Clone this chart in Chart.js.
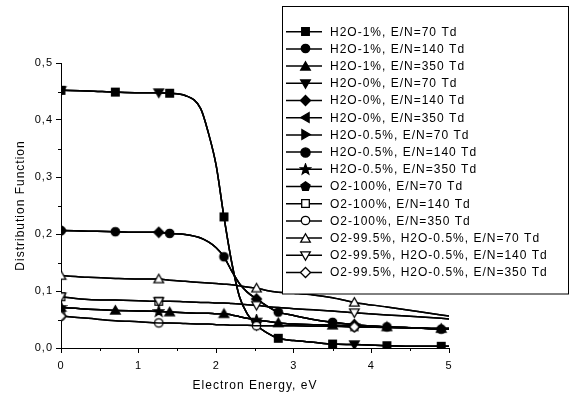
<!DOCTYPE html>
<html>
<head>
<meta charset="utf-8">
<title>Electron energy distribution</title>
<script src="https://cdn.jsdelivr.net/npm/chart.js@4.4.0/dist/chart.umd.min.js"></script>
<style>
  html, body { margin: 0; padding: 0; background: #fff; }
</style>
</head>
<body>
<canvas id="eedfChart" width="570" height="396"></canvas>
<script>
// --- Data ---
const energy = [0, 0.35, 0.7, 1.0, 1.26, 1.4, 1.6, 1.8, 1.9, 2.0, 2.1, 2.2, 2.3, 2.4, 2.52, 2.65, 2.8, 3.0, 3.25, 3.5, 3.78, 4.2, 4.6, 4.9, 5.0];

// water admixture runs
const eedf70  = [0.452, 0.451, 0.449, 0.448, 0.448, 0.447, 0.443, 0.420, 0.377, 0.320, 0.230, 0.150, 0.090, 0.060, 0.040, 0.027, 0.017, 0.013, 0.010, 0.007, 0.006, 0.004, 0.003, 0.003, 0.003];
const eedf140 = [0.206, 0.205, 0.204, 0.203, 0.203, 0.201, 0.199, 0.193, 0.186, 0.176, 0.160, 0.135, 0.113, 0.098, 0.086, 0.074, 0.063, 0.057, 0.050, 0.045, 0.041, 0.037, 0.035, 0.033, 0.033];
const eedf350 = [0.071, 0.068, 0.066, 0.065, 0.064, 0.063, 0.062, 0.061, 0.061, 0.060, 0.060, 0.058, 0.055, 0.052, 0.049, 0.047, 0.044, 0.042, 0.041, 0.040, 0.039, 0.037, 0.035, 0.034, 0.034];

// oxygen runs
const o2eedf70  = [0.127, 0.124, 0.122, 0.121, 0.121, 0.119, 0.117, 0.115, 0.114, 0.113, 0.112, 0.111, 0.109, 0.107, 0.105, 0.101, 0.098, 0.096, 0.093, 0.088, 0.080, 0.072, 0.064, 0.058, 0.056];
const o2eedf140 = [0.090, 0.085, 0.084, 0.083, 0.082, 0.082, 0.081, 0.080, 0.080, 0.079, 0.079, 0.078, 0.077, 0.076, 0.075, 0.073, 0.071, 0.069, 0.067, 0.065, 0.062, 0.058, 0.055, 0.052, 0.051];
const o2eedf350 = [0.056, 0.052, 0.048, 0.046, 0.044, 0.044, 0.043, 0.042, 0.042, 0.041, 0.041, 0.040, 0.040, 0.040, 0.039, 0.039, 0.039, 0.039, 0.038, 0.038, 0.037, 0.036, 0.035, 0.034, 0.034];

// energies where symbols are drawn
const marksA = [0, 0.7, 1.4, 2.1, 2.8, 3.5, 4.2, 4.9];
const marksB = [0, 1.26, 2.52, 3.78];

const xTicks = [0, 1, 2, 3, 4, 5];
const yTicks = [0, 0.1, 0.2, 0.3, 0.4, 0.5];

// --- Marker images (Origin-like symbols) ---
function markerImage(shape, filled) {
    const c = document.createElement('canvas');
    c.width = 13; c.height = 13;
    const g = c.getContext('2d');
    g.translate(6.5, 6.5);
    g.beginPath();
    const poly = pts => { g.moveTo(pts[0][0], pts[0][1]); pts.slice(1).forEach(p => g.lineTo(p[0], p[1])); g.closePath(); };
    if (shape === 'square') g.rect(-3.8, -3.8, 7.6, 7.6);
    else if (shape === 'circle') g.arc(0, 0, 4.2, 0, Math.PI * 2);
    else if (shape === 'bigcircle') g.arc(0, 0, 4.6, 0, Math.PI * 2);
    else if (shape === 'up') poly([[0, -4.8], [4.8, 3.6], [-4.8, 3.6]]);
    else if (shape === 'down') poly([[0, 4.8], [4.8, -3.6], [-4.8, -3.6]]);
    else if (shape === 'left') poly([[-4.8, 0], [3.6, -4.8], [3.6, 4.8]]);
    else if (shape === 'right') poly([[4.8, 0], [-3.6, -4.8], [-3.6, 4.8]]);
    else if (shape === 'diamond') poly([[0, -5], [5, 0], [0, 5], [-5, 0]]);
    else if (shape === 'star' || shape === 'pentagon') {
        const pts = [];
        const n = shape === 'star' ? 10 : 5;
        for (let k = 0; k < n; k++) {
            const a = -Math.PI / 2 + k * 2 * Math.PI / n;
            const r = shape === 'star' ? (k % 2 ? 2.3 : 5.5) : 4.8;
            pts.push([r * Math.cos(a), r * Math.sin(a)]);
        }
        poly(pts);
    }
    g.fillStyle = filled ? '#000' : '#fff';
    g.fill();
    g.lineWidth = 1.3;
    g.strokeStyle = '#000';
    g.stroke();
    return c;
}

const series = [
    { label: 'H2O-1%, E/N=70 Td',   values: eedf70,  shape: 'square',    filled: true, marks: marksA },
    { label: 'H2O-1%, E/N=140 Td',  values: eedf140, shape: 'circle',    filled: true, marks: marksA },
    { label: 'H2O-1%, E/N=350 Td',  values: eedf350, shape: 'up',        filled: true, marks: marksA },
    { label: 'H2O-0%, E/N=70 Td',   values: eedf70,  shape: 'down',      filled: true, marks: marksB },
    { label: 'H2O-0%, E/N=140 Td',  values: eedf140, shape: 'diamond',   filled: true, marks: marksB },
    { label: 'H2O-0%, E/N=350 Td',  values: eedf350, shape: 'left',      filled: true, marks: [] },
    { label: 'H2O-0.5%, E/N=70 Td', values: eedf70,  shape: 'right',     filled: true, marks: [] },
    { label: 'H2O-0.5%, E/N=140 Td', values: eedf140, shape: 'bigcircle', filled: true, marks: [] },
    { label: 'H2O-0.5%, E/N=350 Td', values: eedf350, shape: 'star',     filled: true, marks: marksB },
    { label: 'O2-100%, E/N=70 Td',  values: o2eedf70,  shape: 'pentagon', filled: true, marks: [] },
    { label: 'O2-100%, E/N=140 Td', values: o2eedf140, shape: 'square',  filled: false, marks: [0, 1.26] },
    { label: 'O2-100%, E/N=350 Td', values: o2eedf350, shape: 'circle',  filled: false, marks: marksB },
    { label: 'O2-99.5%, H2O-0.5%, E/N=70 Td',  values: o2eedf70,  shape: 'up',      filled: false, marks: marksB },
    { label: 'O2-99.5%, H2O-0.5%, E/N=140 Td', values: o2eedf140, shape: 'down',    filled: false, marks: marksB },
    { label: 'O2-99.5%, H2O-0.5%, E/N=350 Td', values: o2eedf350, shape: 'diamond', filled: false, marks: [0, 3.78] }
];

const datasets = series.map((s, i) => {
    const img = markerImage(s.shape, s.filled);
    return {
        label: s.label,
        data: energy.map((e, k) => ({ x: e, y: s.values[k] })),
        borderColor: '#000',
        borderWidth: 1.5,
        cubicInterpolationMode: 'monotone',
        fill: false,
        clip: 0,
        order: -i, // later series drawn on top, like Origin
        pointStyle: img,
        pointRadius: ctx => s.marks.includes(energy[ctx.dataIndex]) ? 4 : 0,
        pointHoverRadius: 0,
        markerImg: img
    };
});

// small helpers: letter spacing, minor ticks, boxed legend
const spacing = {
    id: 'spacing',
    beforeDraw(chart) { chart.ctx.letterSpacing = '1px'; }
};

const minorTicks = {
    id: 'minorTicks',
    afterDraw(chart) {
        const { ctx, scales: { x, y } } = chart;
        ctx.save();
        ctx.strokeStyle = '#000';
        ctx.lineWidth = 1;
        ctx.beginPath();
        yTicks.slice(1).forEach(v => {
            const py = Math.round(y.getPixelForValue(v - 0.05)) + 0.5;
            ctx.moveTo(x.left - 3, py); ctx.lineTo(x.left, py);
        });
        xTicks.slice(1).forEach(v => {
            const px = Math.round(x.getPixelForValue(v - 0.5)) + 0.5;
            ctx.moveTo(px, y.bottom); ctx.lineTo(px, y.bottom + 3);
        });
        ctx.stroke();
        ctx.restore();
    }
};

const legendBox = {
    id: 'legendBox',
    afterDraw(chart) {
        const ctx = chart.ctx;
        ctx.save();
        ctx.fillStyle = '#fff';
        ctx.fillRect(282.5, 6.5, 286, 287.5);
        ctx.strokeStyle = '#000';
        ctx.lineWidth = 1;
        ctx.strokeRect(282.5, 6.5, 286, 287.5);
        ctx.font = '12px "Liberation Sans", Arial, sans-serif';
        ctx.letterSpacing = '1px';
        ctx.textBaseline = 'middle';
        ctx.fillStyle = '#000';
        chart.data.datasets.forEach((ds, i) => {
            const cy = 31.7 + i * 17.2;
            ctx.lineWidth = 1.5;
            ctx.beginPath();
            ctx.moveTo(286, cy); ctx.lineTo(322, cy);
            ctx.stroke();
            const img = ds.markerImg;
            ctx.drawImage(img, Math.round(305 - img.width / 2), Math.round(cy - img.height / 2));
            ctx.fillText(ds.label, 330, cy + 0.5);
        });
        ctx.restore();
    }
};

Chart.defaults.font.family = '"Liberation Sans", Arial, sans-serif';
Chart.defaults.color = '#000';

new Chart(document.getElementById('eedfChart'), {
    type: 'line',
    data: { datasets },
    options: {
        responsive: false,
        animation: false,
        events: [],
        layout: { padding: { top: 63, right: 121, bottom: 0, left: 0 } },
        plugins: { legend: { display: false }, tooltip: { enabled: false } },
        scales: {
            x: {
                type: 'linear',
                min: 0, max: 5,
                afterBuildTicks: s => { s.ticks = xTicks.map(v => ({ value: v })); },
                ticks: { color: '#000', font: { size: 11 }, padding: 6, maxRotation: 0, callback: v => String(v) },
                grid: { drawOnChartArea: false, tickLength: 5, color: '#000' },
                border: { color: '#000', width: 1 },
                title: { display: true, text: 'Electron Energy, eV', color: '#000', font: { size: 12 }, padding: { top: 0, bottom: 3 } },
                afterFit: s => { s.height = 48; }
            },
            y: {
                type: 'linear',
                min: 0, max: 0.5,
                afterBuildTicks: s => { s.ticks = yTicks.map(v => ({ value: v })); },
                ticks: { color: '#000', font: { size: 11 }, padding: 3, callback: v => v.toFixed(1).replace('.', ',') },
                grid: { drawOnChartArea: false, tickLength: 5, color: '#000' },
                border: { color: '#000', width: 1 },
                title: { display: true, text: 'Distribution Function', color: '#000', font: { size: 12 }, padding: { top: 13, bottom: 0 } },
                afterFit: s => { s.width = 61; }
            }
        }
    },
    plugins: [spacing, minorTicks, legendBox]
});
</script>
</body>
</html>
